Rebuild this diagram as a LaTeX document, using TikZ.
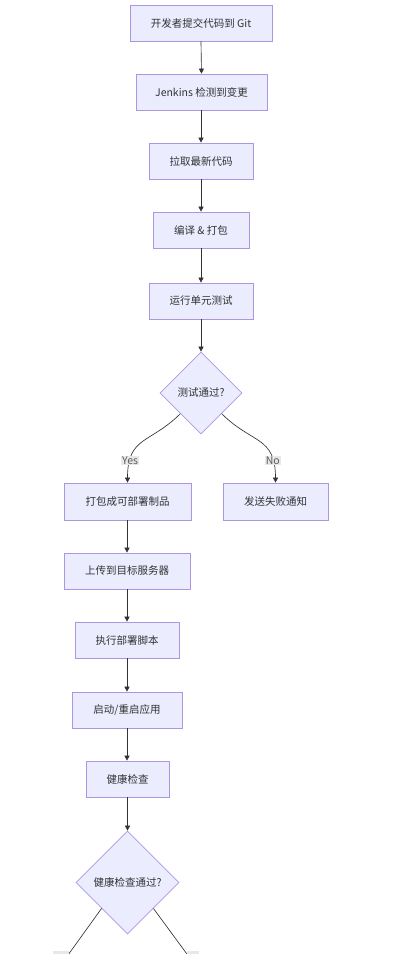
\documentclass[tikz,border=0pt]{standalone}
\usepackage{fontspec}
\setmainfont{Noto Sans CJK SC}
\usetikzlibrary{shapes.geometric,arrows.meta}
\definecolor{boxfill}{HTML}{ECECFF}
\definecolor{boxline}{HTML}{AC96E2}
\definecolor{edgecol}{HTML}{333333}
\definecolor{lblbg}{HTML}{E8E8E8}
\begin{document}
\begin{tikzpicture}[x=1pt,y=-1pt,
  stepbox/.style={draw=boxline,fill=boxfill,line width=0.7pt,minimum height=36pt,inner sep=0pt,
    font=\fontsize{10.5pt}{12pt}\selectfont,text=edgecol},
  decision/.style={shape=diamond,aspect=1,draw=boxline,fill=boxfill,line width=0.7pt,inner sep=0pt,
    font=\fontsize{10.5pt}{12pt}\selectfont,text=edgecol},
  arr/.style={draw=edgecol,line width=0.65pt,-{Triangle[length=5pt,width=5pt]}},
  ln/.style={draw=edgecol,line width=0.65pt},
  lbl/.style={fill=lblbg,inner xsep=1pt,inner ysep=1pt,font=\fontsize{10.5pt}{12pt}\selectfont,text=edgecol!80}]
\useasboundingbox (0,0) rectangle (392,954);
\clip (0,0) rectangle (392,954);
\node[stepbox,minimum width=142pt] (a) at (201,23) {开发者提交代码到 Git};
\node[stepbox,minimum width=131pt] (b) at (201.5,92) {Jenkins 检测到变更};
\node[stepbox,minimum width=104pt] (c) at (201,161) {拉取最新代码};
\node[stepbox,minimum width=96pt] (d) at (201,230) {编译 \& 打包};
\node[stepbox,minimum width=104pt] (e) at (201,301) {运行单元测试};
\node[decision,minimum width=82pt,minimum height=82pt] (f) at (201,393) {测试通过?};
\node[stepbox,minimum width=127pt,minimum height=37pt] (g) at (127.5,501.5) {打包成可部署制品};
\node[stepbox,minimum width=105pt,minimum height=37pt] (h) at (275.5,501.5) {发送失败通知};
\node[stepbox,minimum width=126pt] (i) at (127,571) {上传到目标服务器};
\node[stepbox,minimum width=104pt] (j) at (127,640) {执行部署脚本};
\node[stepbox,minimum width=110pt] (k) at (127,710) {启动/重启应用};
\node[stepbox,minimum width=83pt] (l) at (127.5,779) {健康检查};
\node[decision,minimum width=103pt,minimum height=103pt] (m) at (127.5,882.5) {健康检查通过?};

\draw[arr] (a.south) -- (b.north);
\draw[arr] (b.south -| a.south) -- (c.north);
\draw[arr] (c.south) -- (d.north);
\draw[arr] (d.south) -- (e.north);
\draw[arr] (e.south) -- (f.north);
\draw[arr] (f.225) .. controls (150,444) and (127.5,436) .. (g.north)
  node[lbl,pos=0.8] {Yes};
\draw[arr] (f.315) .. controls (252,444) and (275.5,436) .. (h.north)
  node[lbl,pos=0.8] {No};
\draw[arr] (g.south -| i.north) -- (i.north);
\draw[arr] (i.south) -- (j.north);
\draw[arr] (j.south) -- (k.north);
\draw[arr] (k.south) -- (l.north -| k.south);
\draw[arr] (l.south) -- (m.north);
\coordinate (mleft) at (50,980);
\coordinate (mright) at (206,980);
\draw[ln] (m.225) -- (mleft);
\draw[ln] (m.315) -- (mright);
\node[fill=lblbg,minimum width=16pt,minimum height=14pt,inner sep=0pt] (m1) at (61,958) {};
\node[fill=lblbg,minimum width=12pt,minimum height=14pt,inner sep=0pt] (m2) at (193,958) {};
\end{tikzpicture}
\end{document}
